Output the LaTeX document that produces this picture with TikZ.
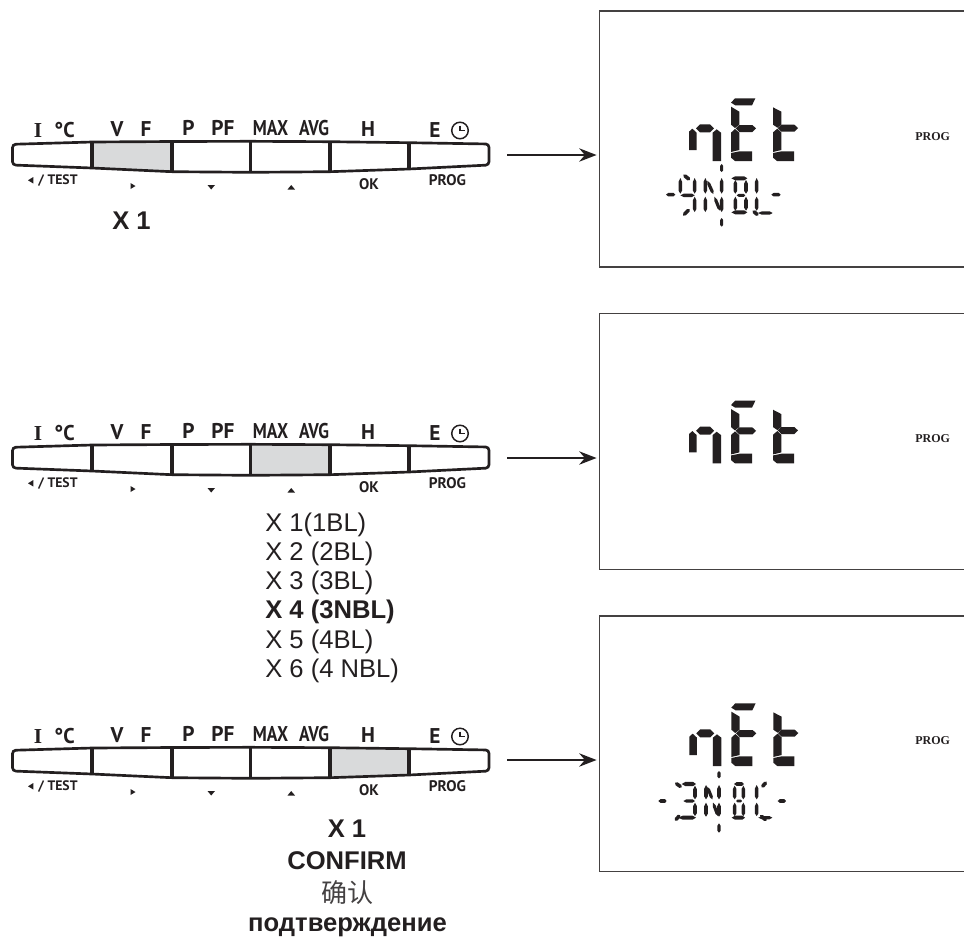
\documentclass[tikz,border=0pt]{standalone}
\usepackage{fontspec}
\setmainfont{Liberation Sans}
\newfontfamily\keyfont{PT Sans}
\newfontfamily\serfont{Liberation Serif}
\newfontfamily\cjkfont{Noto Sans CJK SC}
\usetikzlibrary{arrows.meta}
\definecolor{ink}{HTML}{231F20}
\definecolor{keygray}{HTML}{D9DADB}
\tikzset{
  keytop/.style={font=\keyfont\bfseries\fontsize{16}{16}\selectfont, text=ink, inner sep=0pt, anchor=base},
  keylow/.style={font=\keyfont\bfseries\fontsize{10.3}{10.3}\selectfont, text=ink, inner sep=0pt},
  keylowb/.style={font=\keyfont\bfseries\fontsize{11.5}{11.5}\selectfont, text=ink, inner sep=0pt},
  listtext/.style={font=\fontsize{19.2}{19.2}\selectfont, text=ink, inner sep=0pt, anchor=base west},
  medtext/.style={font=\bfseries\fontsize{19.2}{19.2}\selectfont, text=ink, inner sep=0pt, anchor=base},
  boxline/.style={draw=ink!85, line width=0.85pt},
  boxarea/.style={anchor=north west, minimum width=274pt, inner sep=0pt, outer sep=0pt},
  flowarrow/.style={draw=ink, line width=1.6pt, -{Stealth[length=13pt,width=10pt]}, shorten >=2.2pt},
  proglabel/.style={font=\serfont\bfseries\fontsize{9}{9}\selectfont, text=ink, inner sep=0pt}
}
% spindle LCD segment in zoom units
\newcommand{\lseg}[5]{%
  \pgfmathsetmacro{\dxx}{#3-#1}\pgfmathsetmacro{\dyy}{#4-#2}%
  \pgfmathsetmacro{\lenn}{max(veclen(\dxx,\dyy),0.01)}%
  \pgfmathsetmacro{\nx}{-\dyy/\lenn*#5*1.35}\pgfmathsetmacro{\ny}{\dxx/\lenn*#5*1.35}%
  \fill[ink] (#1,#2) -- ({#1+.25*\dxx+\nx},{#2+.25*\dyy+\ny}) -- ({#1+.8*\dxx+\nx},{#2+.8*\dyy+\ny}) -- (#3,#4) -- ({#1+.8*\dxx-\nx},{#2+.8*\dyy-\ny}) -- ({#1+.25*\dxx-\nx},{#2+.25*\dyy-\ny}) -- cycle;}
\newcommand{\netword}{%
  % n
  \fill[ink] (207,125) -- (217,116) -- (230,128) -- (230,180) -- (207,180) -- cycle;
  \fill[ink] (228,115) -- (240,103) -- (270,103) -- (282,115) -- (270,127) -- (240,127) -- cycle;
  \fill[ink] (278,128) -- (290,118) -- (303,128) -- (303,213) -- (278,213) -- cycle;
  % E
  \fill[ink] (333,38) -- (345,25) -- (406,25) -- (396,46) -- (346,46) -- cycle;
  \fill[ink] (333,50) -- (358,65) -- (358,104) -- (345,114) -- (333,104) -- cycle;
  \fill[ink] (347,115) -- (358,105) -- (397,105) -- (408,115) -- (397,126) -- (358,126) -- cycle;
  \fill[ink] (333,128) -- (345,117) -- (358,128) -- (358,180) -- (333,186) -- cycle;
  \fill[ink] (333,189) -- (358,184) -- (396,184) -- (396,213) -- (345,213) -- (333,203) -- cycle;
  % t
  \fill[ink] (459,52) -- (484,65) -- (484,104) -- (472,113) -- (459,104) -- cycle;
  \fill[ink] (473,114) -- (484,104) -- (523,104) -- (534,114) -- (523,125) -- (484,125) -- cycle;
  \fill[ink] (459,127) -- (472,116) -- (484,127) -- (484,180) -- (459,186) -- cycle;
  \fill[ink] (459,189) -- (484,184) -- (522,184) -- (522,213) -- (471,213) -- (459,203) -- cycle;
}
\newcommand{\keypad}[1]{%
  \begin{scope}[shift={(0,#1)}]
    \ifcase\keysel
    \or \fill[keygray] (92,142) -- (172,141.5) -- (172,171.7) -- (92,168) -- cycle;
    \or \fill[keygray] (250.7,141.3) -- (330,141.7) -- (330,171.7) -- (250.7,172.3) -- cycle;
    \or \fill[keygray] (330,141.7) -- (409,142.7) -- (409,169) -- (330,171.7) -- cycle;
    \fi
    \draw[ink, line width=2pt, rounded corners=2.5pt] (92,142) -- (172,141.5) -- (250.7,141.3) -- (330,141.7) -- (409,142.7) -- (489,144) -- (489,165) -- (409,169) -- (330,171.7) -- (250.7,172.3) -- (172,171.7) -- (92,168) -- (12.5,165) -- (12.5,144.3) -- cycle;
    \foreach \kx/\ka/\kb in {92/142/168,172/141.5/171.7,250.7/141.3/172.3,330/141.7/171.7,409/142.7/169}
      \draw[ink, line width=2.3pt] (\kx,\ka) -- (\kx,\kb);
    \node[keytop] at (38,137.7) {\serfont I};
    \node[keytop,xscale=.95] at (64.5,137.7) {°C};
    \node[keytop] at (117,136.7) {V};
    \node[keytop] at (146,136.7) {F};
    \node[keytop] at (188.5,135) {P};
    \node[keytop] at (223,135) {PF};
    \node[keytop,xscale=.82] at (270.5,135) {MAX};
    \node[keytop,xscale=.82] at (314,135) {AVG};
    \node[keytop] at (368,136.7) {H};
    \node[keytop] at (435,137) {E};
    \draw[ink, line width=1.1pt] (460,130.5) circle (6.2pt);
    \draw[ink, line width=.9pt] (460,125.5) -- (460,130.5) -- (465,130.5);
    \fill[ink] (33.3,177) -- (33.3,183.5) -- (28,180.3) -- cycle;
    \node[keylow] at (58,181) {/ TEST};
    \fill[ink] (130.5,183) -- (130.5,189) -- (135.5,186) -- cycle;
    \fill[ink] (207.5,185) -- (215,185) -- (211.2,189.5) -- cycle;
    \fill[ink] (287.5,189.5) -- (295,189.5) -- (291.2,185) -- cycle;
    \node[keylowb] at (369,184.5) {OK};
    \node[keylowb] at (447.5,180.5) {PROG};
  \end{scope}}
\begin{document}
\begin{tikzpicture}[x=.75pt,y=-.75pt]
\useasboundingbox (0,0) rectangle (964,936);
\fill[white] (0,0) rectangle (964,936);
% keypads
\def\keysel{1}\keypad{0}
\def\keysel{2}\keypad{303}
\def\keysel{3}\keypad{606}
% boxes: open on the right, cut by the page edge
\node[boxarea, minimum height=192pt] (boxa) at (599.5,11) {};
\node[boxarea, minimum height=192.2pt] (boxb) at (599.5,313.5) {};
\node[boxarea, minimum height=191.7pt] (boxc) at (599.5,616) {};
\draw[boxline] (boxa.north east) -- (boxa.north west) -- (boxa.south west) -- (boxa.south east);
\draw[boxline] (boxb.north east) -- (boxb.north west) -- (boxb.south west) -- (boxb.south east);
\draw[boxline] (boxc.north east) -- (boxc.north west) -- (boxc.south west) -- (boxc.south east);
% arrows
\coordinate (ka) at (507,155);
\coordinate (kb) at (507,458);
\coordinate (kc) at (507,760);
\draw[flowarrow] (ka) -- (ka -| boxa.west);
\draw[flowarrow] (kb) -- (kb -| boxb.west);
\draw[flowarrow] (kc) -- (kc -| boxc.west);
% PROG labels
\node[proglabel] (pa) at (932.7,136.5) {PROG};
\node[proglabel] (pb) at (932.7,439) {PROG};
\node[proglabel] (pc) at (932.7,741) {PROG};
% texts
\node[medtext] (t1) at (131.5,229) {X 1};
\node[listtext] (l1) at (265,531.3) {X 1(1BL)};
\node[listtext] (l2) at (265,560.5) {X 2 (2BL)};
\node[listtext] (l3) at (265,589.7) {X 3 (3BL)};
\node[listtext] (l4) at (265,618.9) {\textbf{X 4 (3NBL)}};
\node[listtext] (l5) at (265,648.1) {X 5 (4BL)};
\node[listtext] (l6) at (265,677) {X 6 (4 NBL)};
\node[medtext] (c1) at (347,837) {X 1};
\node[medtext] (c2) at (347,869) {CONFIRM};
\node[inner sep=0pt, text=ink!85, font=\cjkfont\fontsize{19.5}{19.5}\selectfont] (c3) at (347,893) {确认};
\node[medtext] (c4) at (347.5,931.7) {подтверждение};
% LCD one
\begin{scope}[shift={(620,90)},x=.25pt,y=-.25pt]
  \netword
  \lseg{305}{222}{305}{246}{3.5}\lseg{305}{384}{305}{410}{3.5}
  \lseg{138}{314}{166}{314}{4}\lseg{454}{314}{482}{314}{4}
  \lseg{190}{254}{210}{270}{4}\lseg{189}{377}{209}{357}{4}
  % 4
  \lseg{181}{264}{181}{311}{4}\lseg{181}{316}{224}{316}{4}
  \lseg{224}{264}{224}{311}{4}\lseg{224}{320}{224}{366}{4}
  % N
  \lseg{256}{264}{256}{311}{4}\lseg{256}{320}{256}{366}{4}
  \lseg{305}{264}{305}{311}{4}\lseg{305}{320}{305}{366}{4}
  \lseg{262}{272}{280}{312}{3.5}\lseg{283}{320}{300}{362}{3.5}
  % B
  \lseg{334}{265}{382}{265}{4.5}\lseg{334}{367}{382}{367}{4.5}
  \lseg{346}{270}{346}{311}{4}\lseg{346}{320}{346}{362}{4}
  \lseg{378}{270}{378}{311}{4}\lseg{378}{320}{378}{362}{4}
  \lseg{350}{316}{376}{316}{3.5}
  % L
  \lseg{410}{264}{410}{311}{4}\lseg{410}{320}{410}{362}{4}
  \lseg{398}{362}{415}{376}{4}\lseg{414}{369}{458}{369}{3.5}
\end{scope}
% LCD two
\begin{scope}[shift={(620,392.4)},x=.25pt,y=-.25pt]
  \netword
\end{scope}
% LCD three
\begin{scope}[shift={(620.3,695)},x=.25pt,y=-.25pt]
  \netword
\end{scope}
\begin{scope}[shift={(630,690)},x=.25pt,y=-.25pt]
  \lseg{267}{243}{267}{265}{3.5}\lseg{267}{400}{267}{428}{3.5}
  \lseg{85}{333}{110}{333}{4}\lseg{443}{333}{468}{333}{4}
  \lseg{135}{278}{155}{292}{4}\lseg{135}{392}{150}{375}{4}
  \lseg{410}{275}{395}{292}{4}\lseg{390}{375}{410}{392}{4}
  % 3
  \lseg{155}{282}{198}{282}{4.5}\lseg{160}{333}{195}{333}{3.5}
  \lseg{145}{383}{198}{383}{4.5}
  \lseg{195}{287}{195}{328}{4}\lseg{195}{338}{195}{378}{4}
  % N
  \lseg{228}{285}{228}{328}{4}\lseg{228}{338}{228}{380}{4}
  \lseg{267}{285}{267}{328}{4}\lseg{267}{338}{267}{380}{4}
  \lseg{232}{290}{247}{328}{3.5}\lseg{249}{338}{264}{378}{3.5}
  % B
  \lseg{312}{282}{342}{282}{4}\lseg{305}{383}{345}{383}{4.5}
  \lseg{314}{287}{314}{328}{4}\lseg{314}{338}{314}{378}{4}
  \lseg{340}{287}{340}{328}{4}\lseg{340}{338}{340}{378}{4}
  \lseg{318}{333}{336}{333}{3}
  % L
  \lseg{380}{285}{380}{328}{4}\lseg{380}{338}{380}{378}{4}
  \lseg{385}{383}{427}{383}{3.5}
\end{scope}
\end{tikzpicture}
\end{document}
